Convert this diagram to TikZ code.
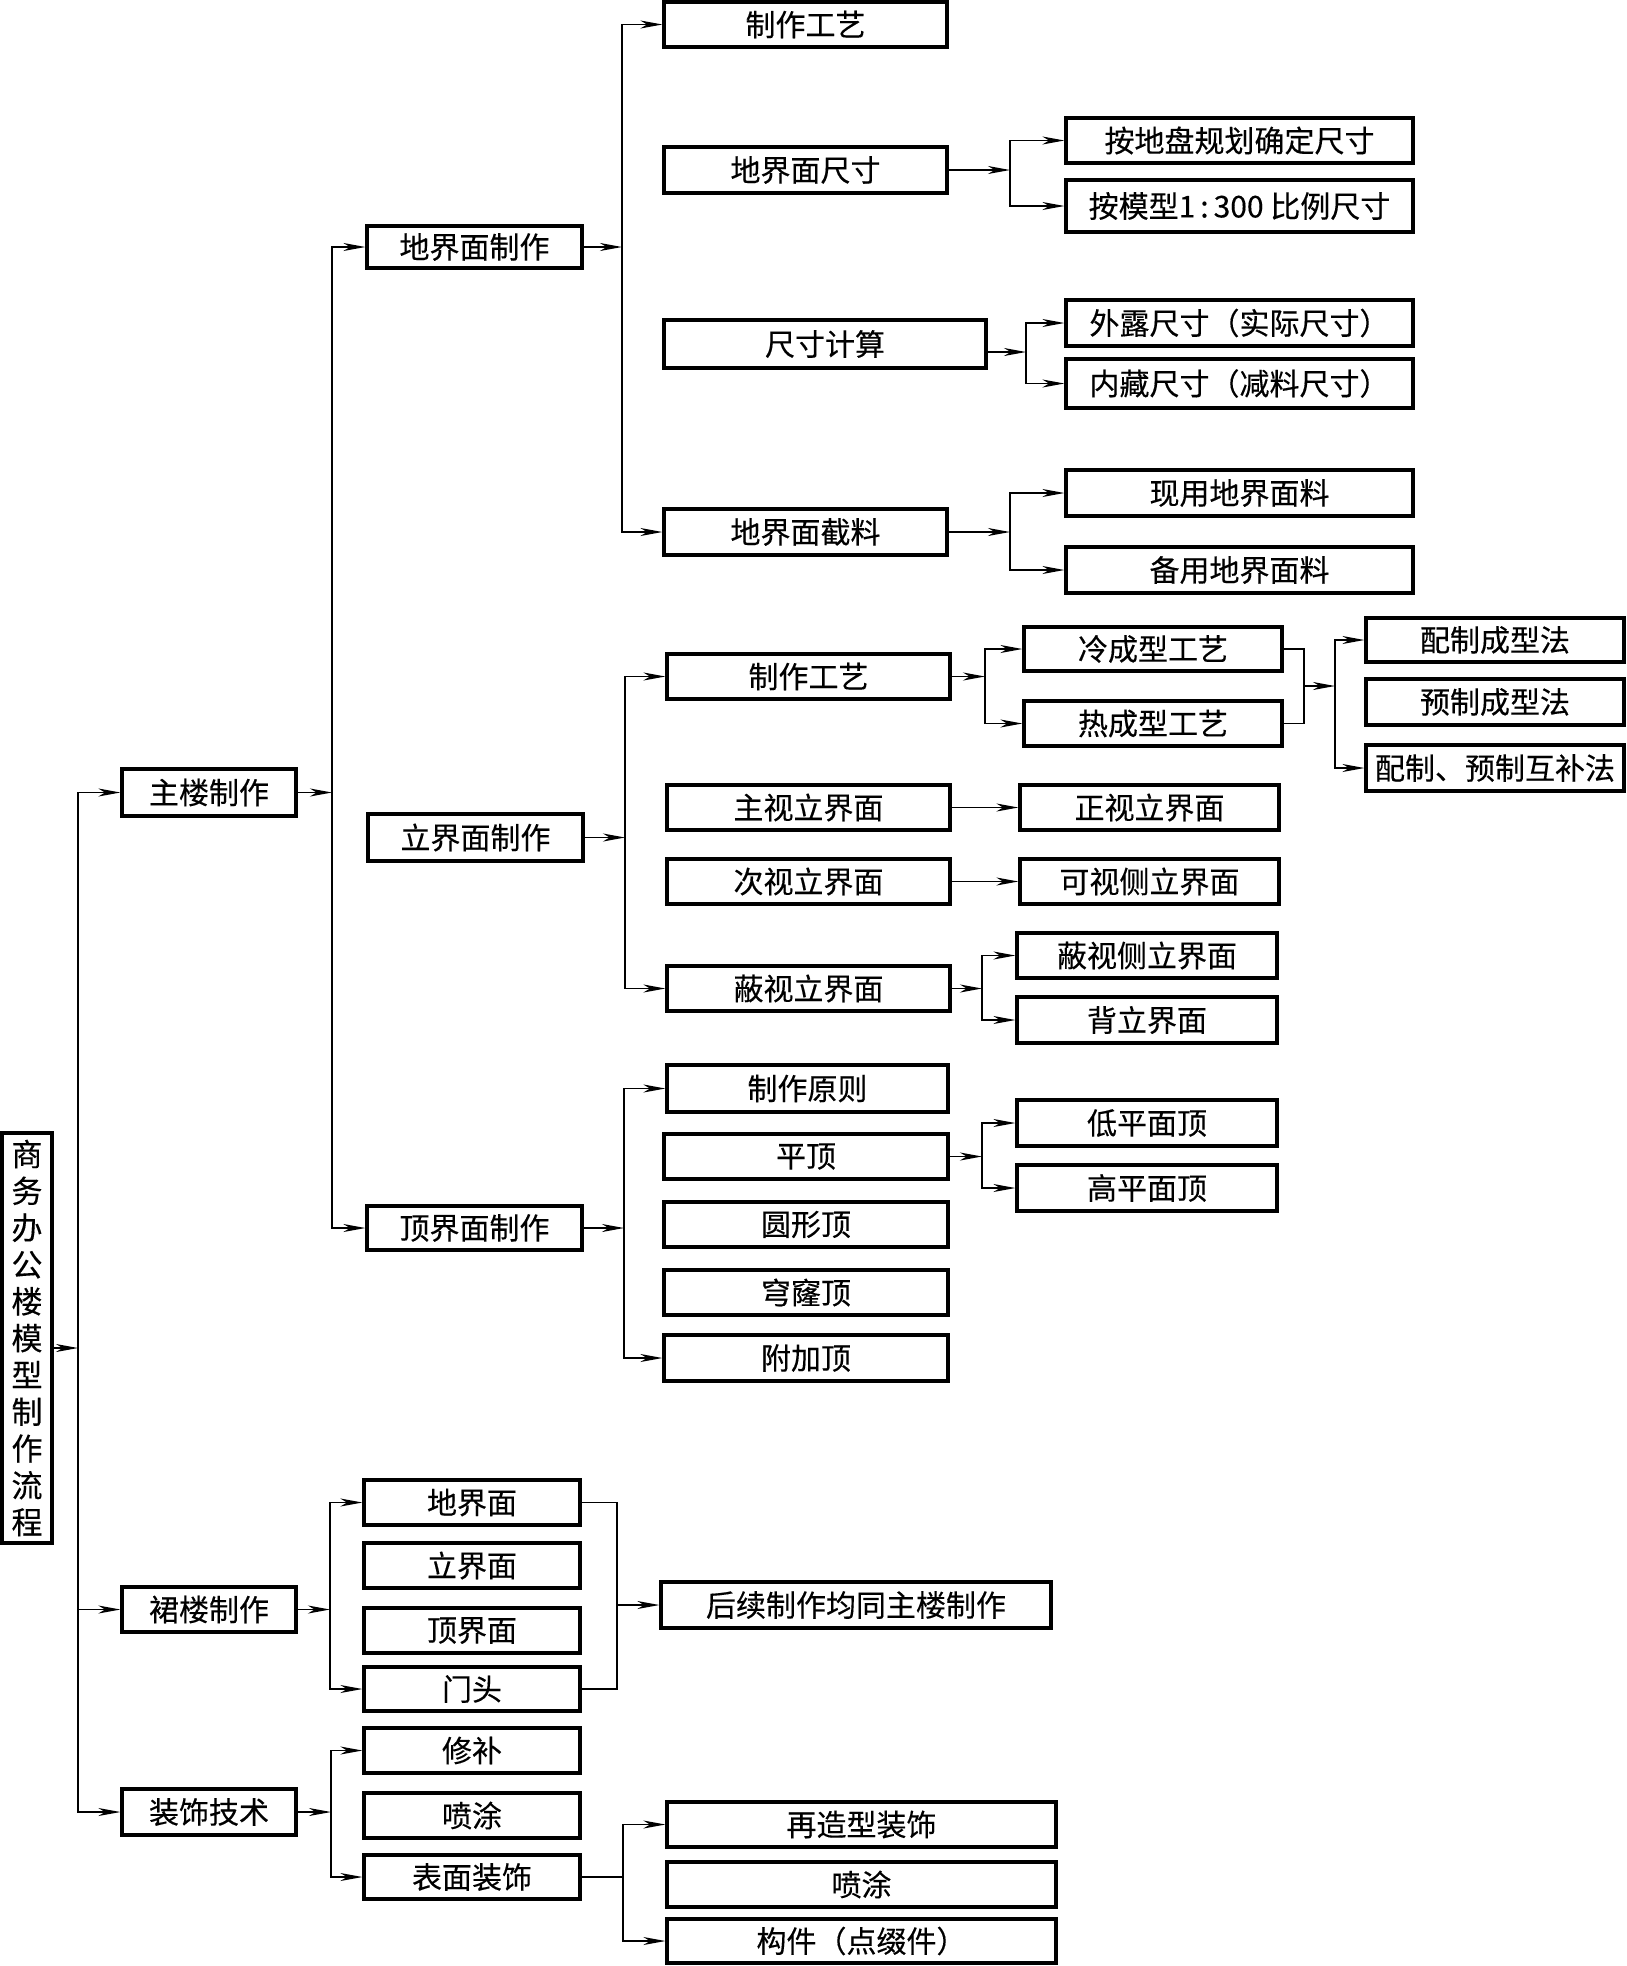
\documentclass[tikz,border=0pt]{standalone}
\usepackage{fontspec}
\setmainfont[FakeBold=0.3,AutoFakeBold=0.3]{Noto Sans CJK SC}
\usetikzlibrary{arrows.meta}
\newcommand{\mybox}[6]{\node[box, minimum width={(#4-#2)*0.5pt}, minimum height={(#5-#3)*0.5pt}] (#1) at ({(#2+#4)/2},{(#3+#5)/2}) {#6};}
\begin{document}
\begin{tikzpicture}[x=0.5pt,y=-0.5pt,
  box/.style={draw, line width=1.6pt, inner sep=0pt, font=\fontsize{15}{18}\selectfont},
  conn/.style={line width=0.75pt},
  arr/.style={conn, -{Stealth[length=11pt,width=4pt,inset=3.3pt]}},
  dbl/.style={conn, {Stealth[length=11pt,width=4pt,inset=3.3pt]}-{Stealth[length=11pt,width=4pt,inset=3.3pt]}}]
\useasboundingbox (0,0) rectangle (1627,1966);

% root
\node[box, minimum width=25pt, minimum height=205pt, align=center, font=\fontsize{15.5}{18.4}\selectfont] (root) at (27,1338)
 {商\\务\\办\\公\\楼\\模\\型\\制\\作\\流\\程};

% level 1
\mybox{zhulou}{122}{769}{296}{816}{主楼制作}
\mybox{qunlou}{122}{1587}{296}{1632}{裙楼制作}
\mybox{zhuangshi}{122}{1789}{296}{1835}{装饰技术}

% level 2
\mybox{dijmzz}{367}{226}{582}{268}{地界面制作}
\mybox{lijmzz}{368}{814}{583}{861}{立界面制作}
\mybox{dingjmzz}{367}{1206}{582}{1250}{顶界面制作}

% under 地界面制作
\mybox{zzgy1}{664}{2}{947}{47}{制作工艺}
\mybox{dmcc}{664}{147}{947}{193}{地界面尺寸}
\mybox{cckj}{664}{320}{986}{368}{尺寸计算}
\mybox{jieliao}{664}{509}{947}{555}{地界面截料}

\mybox{andp}{1066}{118}{1413}{163}{按地盘规划确定尺寸}
\mybox{anmx}{1066}{180}{1413}{232}{按模型1\,:\,300 比例尺寸}
\mybox{wailu}{1066}{300}{1413}{346}{外露尺寸（实际尺寸）}
\mybox{neicang}{1066}{359}{1413}{408}{内藏尺寸（减料尺寸）}
\mybox{xianyong}{1066}{470}{1413}{516}{现用地界面料}
\mybox{beiyong}{1066}{547}{1413}{593}{备用地界面料}

% under 立界面制作
\mybox{zzgy2}{667}{654}{950}{699}{制作工艺}
\mybox{zhushi}{667}{785}{950}{830}{主视立界面}
\mybox{cishi}{667}{859}{950}{904}{次视立界面}
\mybox{bishi}{667}{966}{950}{1011}{蔽视立界面}

\mybox{leng}{1024}{627}{1282}{671}{冷成型工艺}
\mybox{re}{1024}{701}{1282}{746}{热成型工艺}
\mybox{peizhi}{1366}{618}{1624}{662}{配制成型法}
\mybox{yuzhi}{1366}{679}{1624}{725}{预制成型法}
\mybox{hubu}{1366}{745}{1624}{791}{配制、预制互补法}

\mybox{zhengshi}{1020}{785}{1279}{830}{正视立界面}
\mybox{keshi}{1020}{859}{1279}{904}{可视侧立界面}
\mybox{bishice}{1017}{933}{1277}{978}{蔽视侧立界面}
\mybox{beili}{1017}{997}{1277}{1043}{背立界面}

% under 顶界面制作
\mybox{yuanze}{667}{1065}{948}{1112}{制作原则}
\mybox{pingding}{664}{1134}{948}{1179}{平顶}
\mybox{yuanxing}{664}{1202}{948}{1247}{圆形顶}
\mybox{qionglong}{664}{1270}{948}{1315}{穹窿顶}
\mybox{fujia}{664}{1335}{948}{1381}{附加顶}
\mybox{diping}{1017}{1100}{1277}{1146}{低平面顶}
\mybox{gaoping}{1017}{1165}{1277}{1211}{高平面顶}

% 裙楼
\mybox{qdi}{364}{1480}{580}{1525}{地界面}
\mybox{qli}{364}{1543}{580}{1588}{立界面}
\mybox{qding}{364}{1608}{580}{1653}{顶界面}
\mybox{qmen}{364}{1667}{580}{1711}{门头}
\mybox{houxu}{661}{1582}{1051}{1628}{后续制作均同主楼制作}

% 装饰
\mybox{xiubu}{364}{1728}{580}{1773}{修补}
\mybox{pentuA}{364}{1793}{580}{1838}{喷涂}
\mybox{biaomian}{364}{1855}{580}{1899}{表面装饰}
\mybox{zaizao}{667}{1802}{1056}{1847}{再造型装饰}
\mybox{pentuB}{667}{1862}{1056}{1907}{喷涂}
\mybox{goujian}{667}{1919}{1056}{1963}{构件（点缀件）}

% bus coordinates
\coordinate (bT) at (78,0);
\coordinate (bA) at (332,0);
\coordinate (bB) at (622,0);
\coordinate (bC) at (1010,0);
\coordinate (bD) at (1026,0);
\coordinate (bF) at (625,0);
\coordinate (bG) at (985,0);
\coordinate (bH) at (1304,0);
\coordinate (bI) at (1335,0);
\coordinate (bJ) at (982,0);
\coordinate (bK) at (624,0);
\coordinate (bM) at (330,0);
\coordinate (bN) at (617,0);
\coordinate (bO) at (331,0);
\coordinate (bP) at (623,0);
\coordinate (lrmid) at (1304,686);

% trunk
\draw[arr] ([yshift=-5pt]root.east) -- ([yshift=-5pt]root.east -| bT);
\draw[dbl] (zhulou.west) -| (bT |- zhuangshi) -- (zhuangshi.west);
\draw[arr] (bT |- qunlou) -- (qunlou.west);

% 主楼
\draw[arr] (zhulou.east) -- (zhulou.east -| bA);
\draw[dbl] (dijmzz.west) -| (bA |- dingjmzz) -- (dingjmzz.west);

% 地界面制作
\draw[arr] (dijmzz.east) -- (dijmzz.east -| bB);
\draw[dbl] (zzgy1.west) -| (bB |- jieliao) -- (jieliao.west);
\draw[arr] (dmcc.east) -- (dmcc.east -| bC);
\draw[dbl] (andp.west) -| (bC |- anmx) -- (anmx.west);
\draw[arr] ([yshift=-4pt]cckj.east) -- ([yshift=-4pt]cckj.east -| bD);
\draw[dbl] (wailu.west) -| (bD |- neicang) -- (neicang.west);
\draw[arr] (jieliao.east) -- (jieliao.east -| bC);
\draw[dbl] (xianyong.west) -| (bC |- beiyong) -- (beiyong.west);

% 立界面制作
\draw[arr] (lijmzz.east) -- (lijmzz.east -| bF);
\draw[dbl] (zzgy2.west) -| (bF |- bishi) -- (bishi.west);
\draw[arr] (zzgy2.east) -- (zzgy2.east -| bG);
\draw[dbl] (leng.west) -| (bG |- re) -- (re.west);
\draw[conn] (leng.east) -| (bH |- re) -- (re.east);
\draw[arr] (lrmid) -- (lrmid -| bI);
\draw[dbl] (peizhi.west) -| (bI |- hubu) -- (hubu.west);
\draw[arr] (zhushi.east) -- (zhengshi.west);
\draw[arr] (cishi.east) -- (keshi.west);
\draw[arr] (bishi.east) -- (bishi.east -| bJ);
\draw[dbl] (bishice.west) -| (bJ |- beili) -- (beili.west);

% 顶界面制作
\draw[arr] (dingjmzz.east) -- (dingjmzz.east -| bK);
\draw[dbl] (yuanze.west) -| (bK |- fujia) -- (fujia.west);
\draw[arr] (pingding.east) -- (pingding.east -| bJ);
\draw[dbl] (diping.west) -| (bJ |- gaoping) -- (gaoping.west);

% 裙楼
\draw[arr] (qunlou.east) -- (qunlou.east -| bM);
\draw[dbl] (qdi.west) -| (bM |- qmen) -- (qmen.west);
\draw[conn] (qdi.east) -| (bN |- qmen) -- (qmen.east);
\draw[arr] (bN |- houxu) -- (houxu.west);

% 装饰
\draw[arr] (zhuangshi.east) -- (zhuangshi.east -| bO);
\draw[dbl] (xiubu.west) -| (bO |- biaomian) -- (biaomian.west);
\draw[conn] (biaomian.east) -- (biaomian.east -| bP);
\draw[dbl] (zaizao.west) -| (bP |- goujian) -- (goujian.west);
\end{tikzpicture}
\end{document}
